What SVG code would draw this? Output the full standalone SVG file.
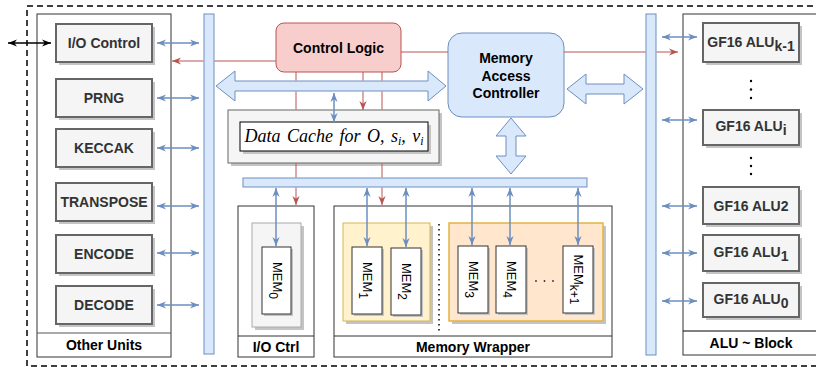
<svg xmlns="http://www.w3.org/2000/svg" width="816" height="367" viewBox="0 0 816 367">
<defs>
<marker id="ab" viewBox="0 0 10 10" refX="10" refY="5" markerWidth="9" markerHeight="9" markerUnits="userSpaceOnUse" orient="auto-start-reverse"><path d="M0,1 L10,5 L0,9 L3,5 z" fill="#6c8ebf"/></marker>
<marker id="ar" viewBox="0 0 10 10" refX="10" refY="5" markerWidth="9" markerHeight="9" markerUnits="userSpaceOnUse" orient="auto-start-reverse"><path d="M0,1 L10,5 L0,9 L3,5 z" fill="#b85450"/></marker>
<marker id="ak" viewBox="0 0 10 10" refX="10" refY="5" markerWidth="9" markerHeight="9" markerUnits="userSpaceOnUse" orient="auto-start-reverse"><path d="M0,1 L10,5 L0,9 L3,5 z" fill="#000"/></marker>
</defs>
<style>
.lbl{font-family:"Liberation Sans",Arial,sans-serif;font-weight:bold;font-size:14px;fill:#333;text-anchor:middle}
.dk{fill:#000}
.unit{fill:#f5f5f5;stroke:#666;stroke-width:2}
.sh{fill:#c4c4c4}
.bus{fill:#dae8fc;stroke:#6c8ebf;stroke-width:1}
.cont{fill:none;stroke:#333;stroke-width:1}
.blue{stroke:#6c8ebf;stroke-width:1.5;fill:none;marker-start:url(#ab);marker-end:url(#ab)}
.red{stroke:#b85450;stroke-width:1;fill:none}
.mem{fill:#fff;stroke:#333;stroke-width:1}
.mt{font-family:"Liberation Sans",Arial,sans-serif;font-size:13px;fill:#000;text-anchor:middle}
.sub{font-size:12px}
.cache{font-family:"Liberation Serif","Times New Roman",serif;font-style:italic;font-size:18px;fill:#000;text-anchor:middle;word-spacing:2px}
</style>
<rect x="27" y="6" width="800" height="360" fill="none" stroke="#000" stroke-width="1.5" stroke-dasharray="6 4"/>

<g id="other-units">
<rect class="cont" x="37" y="14" width="134" height="343" stroke="#555"/>
<line x1="37" y1="333" x2="171" y2="333" stroke="#555"/>
<text class="lbl dk" x="104" y="350">Other Units</text>
</g>
<g id="io-control"><rect class="sh" x="59" y="27" width="96" height="38"/><rect class="unit" x="56" y="24" width="96" height="38"/><text class="lbl" x="104" y="48">I/O Control</text></g>
<g id="prng"><rect class="sh" x="59" y="82" width="96" height="38"/><rect class="unit" x="56" y="79" width="96" height="38"/><text class="lbl" x="104" y="103">PRNG</text></g>
<g id="keccak"><rect class="sh" x="59" y="132" width="96" height="38"/><rect class="unit" x="56" y="129" width="96" height="38"/><text class="lbl" x="104" y="153">KECCAK</text></g>
<g id="transpose"><rect class="sh" x="59" y="186" width="96" height="38"/><rect class="unit" x="56" y="183" width="96" height="38"/><text class="lbl" x="104" y="207">TRANSPOSE</text></g>
<g id="encode"><rect class="sh" x="59" y="238" width="96" height="38"/><rect class="unit" x="56" y="235" width="96" height="38"/><text class="lbl" x="104" y="259">ENCODE</text></g>
<g id="decode"><rect class="sh" x="59" y="289" width="96" height="38"/><rect class="unit" x="56" y="286" width="96" height="38"/><text class="lbl" x="104" y="310">DECODE</text></g>

<g id="left-bus"><rect class="bus" x="204" y="14" width="10" height="340"/></g>
<g id="right-bus"><rect class="bus" x="646" y="14" width="10" height="341"/></g>

<g id="control-logic">
<rect x="276" y="23" width="125" height="49" rx="8" fill="#f8cecc" stroke="#b85450"/>
<text class="lbl dk" x="338.5" y="53">Control Logic</text>
</g>

<g id="mac">
<rect x="448" y="33" width="116" height="84" rx="14" fill="#dae8fc" stroke="#6c8ebf"/>
<text class="lbl dk" x="506" y="63">Memory</text>
<text class="lbl dk" x="506" y="81">Access</text>
<text class="lbl dk" x="506" y="98">Controller</text>
</g>

<g id="main-bus-arrow">
<path class="bus" d="M216,86 L235,71 L235,81 L428,81 L428,71 L446,86 L428,101 L428,91 L235,91 L235,101 Z"/>
</g>
<g id="mac-right-arrow">
<path class="bus" d="M567,89 L586,74 L586,84 L624,84 L624,74 L643,89 L624,104 L624,94 L586,94 L586,104 Z"/>
</g>
<g id="mac-down-arrow">
<path class="bus" d="M511,118 L526,136 L516,136 L516,156 L526,156 L511,174 L496,156 L506,156 L506,136 L496,136 Z"/>
</g>

<g id="data-cache">
<rect class="sh" x="231" y="113" width="211" height="53"/>
<rect x="228" y="110" width="211" height="53" fill="#f5f5f5" stroke="#666" stroke-width="1"/>
<rect class="sh" x="243" y="125" width="188" height="29"/>
<rect x="240" y="122" width="188" height="29" fill="#fff" stroke="#000" stroke-width="1"/>
<text class="cache" x="334" y="142">Data Cache for O, s<tspan dy="3" font-size="12">i</tspan><tspan dy="-3">, v</tspan><tspan dy="3" font-size="12">i</tspan></text>
</g>

<g id="bottom-bus"><rect class="bus" x="243" y="178" width="344" height="9"/></g>

<g id="io-ctrl">
<rect class="cont" x="238" y="206" width="76" height="151"/>
<line x1="238" y1="336" x2="314" y2="336" stroke="#333"/>
<text class="lbl dk" x="276" y="352">I/O Ctrl</text>
<rect class="sh" x="255" y="226" width="49" height="104"/>
<rect x="252" y="223" width="49" height="104" fill="#f5f5f5" stroke="#aaa"/>
</g>
<g id="mem0">
<rect class="sh" x="264" y="249" width="29" height="67"/>
<rect class="mem" x="262" y="247" width="29" height="67"/>
<text class="mt" transform="translate(276.5,280.5) rotate(90)" dy="4">MEM<tspan class="sub" dy="4">0</tspan></text>
</g>

<g id="memory-wrapper">
<rect class="cont" x="334" y="206" width="278" height="151"/>
<line x1="334" y1="336" x2="612" y2="336" stroke="#333"/>
<text class="lbl dk" x="473" y="352">Memory Wrapper</text>
<rect class="sh" x="346" y="226" width="87" height="98"/>
<rect x="343" y="223" width="87" height="98" fill="#fff2cc" stroke="#d6b656"/>
<line x1="439" y1="224" x2="439" y2="334" stroke="#000" stroke-width="1.5" stroke-dasharray="1.5 3.5"/>
<rect class="sh" x="452" y="226" width="154" height="98"/>
<rect x="449" y="223" width="154" height="98" fill="#ffe6cc" stroke="#e3b341" stroke-width="1.5"/>
<circle cx="536" cy="281" r="0.9" fill="#333"/><circle cx="544.5" cy="281" r="0.9" fill="#333"/><circle cx="553" cy="281" r="0.9" fill="#333"/>
</g>
<g id="mem1"><rect class="sh" x="354" y="249" width="30" height="67"/><rect class="mem" x="352" y="247" width="30" height="67"/><text class="mt" transform="translate(367,280.5) rotate(90)" dy="4">MEM<tspan class="sub" dy="4">1</tspan></text></g>
<g id="mem2"><rect class="sh" x="393" y="250" width="30" height="67"/><rect class="mem" x="391" y="248" width="30" height="67"/><text class="mt" transform="translate(406,281.5) rotate(90)" dy="4">MEM<tspan class="sub" dy="4">2</tspan></text></g>
<g id="mem3"><rect class="sh" x="460" y="248" width="30" height="67"/><rect class="mem" x="458" y="246" width="30" height="67"/><text class="mt" transform="translate(473,279.5) rotate(90)" dy="4">MEM<tspan class="sub" dy="4">3</tspan></text></g>
<g id="mem4"><rect class="sh" x="498" y="248" width="30" height="67"/><rect class="mem" x="496" y="246" width="30" height="67"/><text class="mt" transform="translate(511,279.5) rotate(90)" dy="4">MEM<tspan class="sub" dy="4">4</tspan></text></g>
<g id="memk1"><rect class="sh" x="565" y="248" width="30" height="67"/><rect class="mem" x="563" y="246" width="30" height="67"/><text class="mt" transform="translate(578,279.5) rotate(90)" dy="4">MEM<tspan class="sub" dy="4">k+1</tspan></text></g>

<g id="alu-block">
<rect class="cont" x="683" y="14" width="136" height="341" stroke="#000"/>
<line x1="683" y1="331" x2="819" y2="331" stroke="#000"/>
<text class="lbl dk" x="751" y="348">ALU ~ Block</text>
<circle cx="751" cy="81" r="1.2" fill="#000"/><circle cx="751" cy="89.5" r="1.2" fill="#000"/><circle cx="751" cy="98" r="1.2" fill="#000"/>
<circle cx="751" cy="158" r="1.2" fill="#000"/><circle cx="751" cy="166" r="1.2" fill="#000"/><circle cx="751" cy="174" r="1.2" fill="#000"/>
</g>
<g id="alu-k1"><rect class="sh" x="706" y="26" width="96" height="39"/><rect class="unit" x="703" y="23" width="96" height="39"/><text class="lbl" x="751" y="47">GF16 ALU<tspan dy="4">k-1</tspan></text></g>
<g id="alu-i"><rect class="sh" x="706" y="113" width="96" height="35"/><rect class="unit" x="703" y="110" width="96" height="35"/><text class="lbl" x="751" y="131">GF16 ALU<tspan dy="4">i</tspan></text></g>
<g id="alu-2"><rect class="sh" x="706" y="190" width="96" height="37"/><rect class="unit" x="703" y="187" width="96" height="37"/><text class="lbl" x="751" y="211">GF16 ALU2</text></g>
<g id="alu-1"><rect class="sh" x="706" y="238" width="96" height="36"/><rect class="unit" x="703" y="235" width="96" height="36"/><text class="lbl" x="751" y="257">GF16 ALU<tspan dy="4">1</tspan></text></g>
<g id="alu-0"><rect class="sh" x="706" y="286" width="96" height="34"/><rect class="unit" x="703" y="283" width="96" height="34"/><text class="lbl" x="751" y="304">GF16 ALU<tspan dy="4">0</tspan></text></g>

<g id="connectors">
<line x1="8" y1="43" x2="51" y2="43" stroke="#000" stroke-width="1.5" marker-start="url(#ak)" marker-end="url(#ak)"/>
<line class="blue" x1="157" y1="43" x2="199" y2="43"/>
<line class="blue" x1="157" y1="98" x2="199" y2="98"/>
<line class="blue" x1="157" y1="148" x2="199" y2="148"/>
<line class="blue" x1="157" y1="206" x2="199" y2="206"/>
<line class="blue" x1="157" y1="253" x2="199" y2="253"/>
<line class="blue" x1="157" y1="305" x2="199" y2="305"/>
<line class="blue" x1="662" y1="37" x2="697" y2="37"/>
<line class="blue" x1="662" y1="120" x2="697" y2="120"/>
<line class="blue" x1="662" y1="206" x2="697" y2="206"/>
<line class="blue" x1="662" y1="253" x2="697" y2="253"/>
<line class="blue" x1="662" y1="301" x2="697" y2="301"/>
<path class="red" d="M276,61 H214.5 M203.5,61 H172" marker-end="url(#ar)"/>
<path class="red" d="M401,52 H448 M564,52 H645.5 M656.5,52 H678" marker-end="url(#ar)"/>
<path class="red" d="M296,72 V80.5 M296,91.5 V109.5 M296,163.5 V177.5 M296,187.5 V205" marker-end="url(#ar)"/>
<path class="red" d="M382,72 V80.5 M382,91.5 V109.5 M382,163.5 V177.5 M382,187.5 V205" marker-end="url(#ar)"/>
<path class="red" d="M363,72 V80.5 M363,91.5 V110" marker-end="url(#ar)"/>
<line class="blue" x1="334" y1="93" x2="334" y2="122"/>
<line class="blue" x1="276" y1="188" x2="276" y2="246"/>
<line class="blue" x1="367" y1="188" x2="367" y2="246"/>
<line class="blue" x1="406" y1="188" x2="406" y2="247"/>
<line class="blue" x1="472" y1="188" x2="472" y2="245"/>
<line class="blue" x1="510" y1="188" x2="510" y2="245"/>
<line class="blue" x1="578" y1="188" x2="578" y2="245"/>
</g>
</svg>
